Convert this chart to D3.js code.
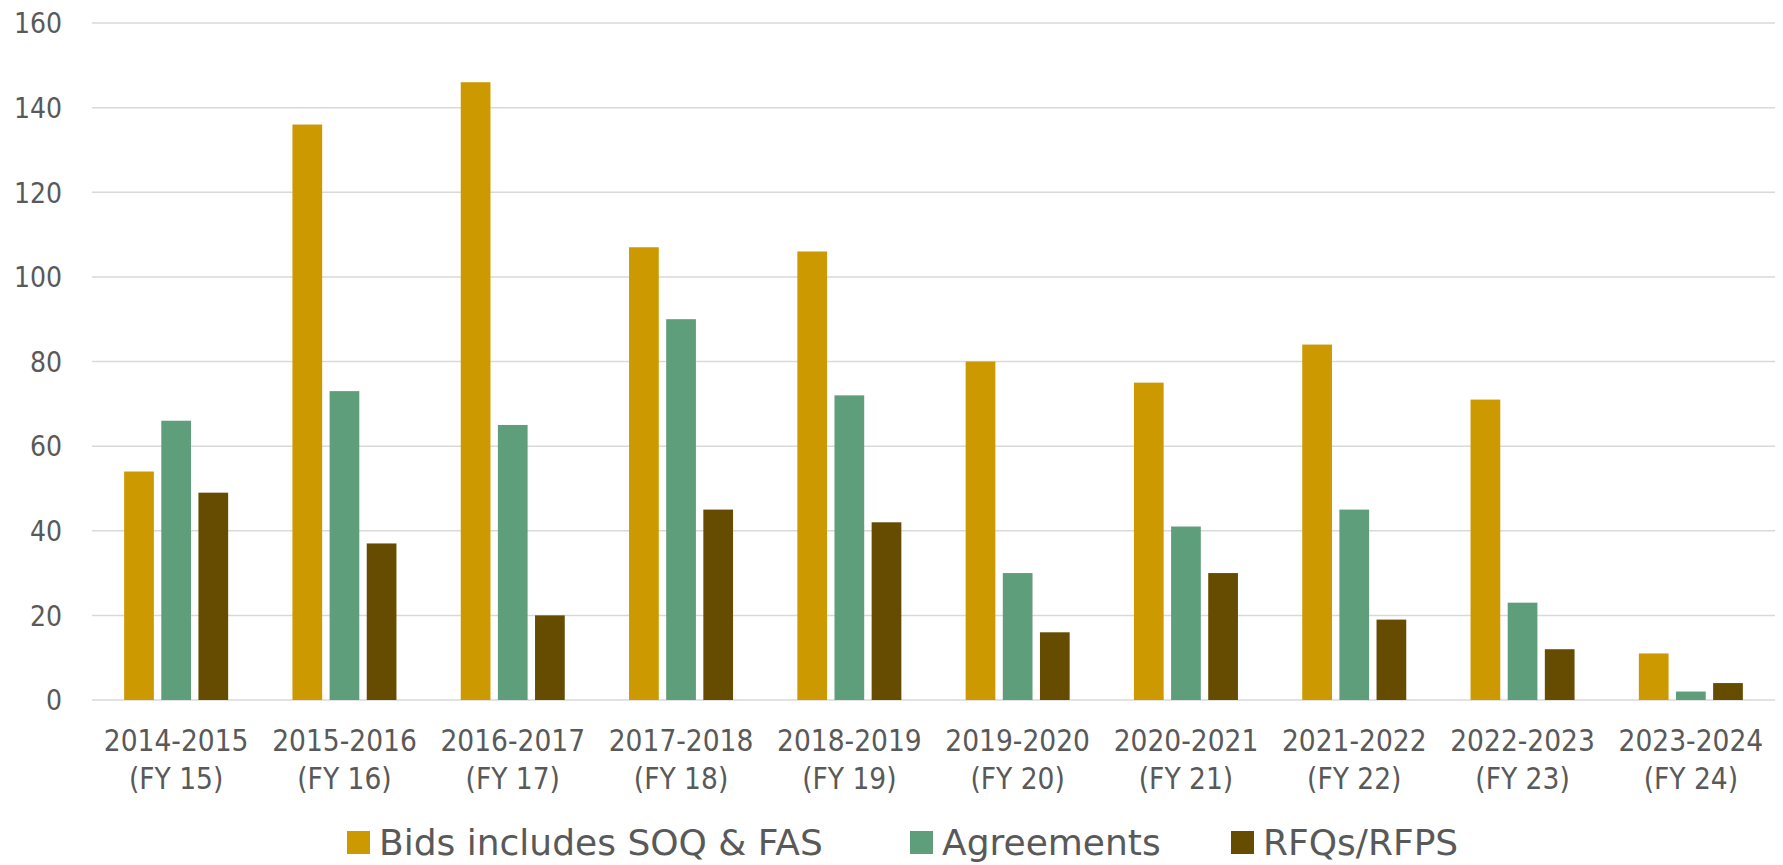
<!DOCTYPE html>
<html>
<head>
<meta charset="utf-8">
<script src="https://cdn.jsdelivr.net/npm/d3@7"></script>
<style>
  body { margin: 0; background: #fff; }
  text { font-family: "DejaVu Sans Condensed", "DejaVu Sans", sans-serif; fill: #595959; }
</style>
</head>
<body>
<svg id="chart" width="1783" height="865"></svg>
<script>
const years = ['2014-2015', '2015-2016', '2016-2017', '2017-2018', '2018-2019',
  '2019-2020', '2020-2021', '2021-2022', '2022-2023', '2023-2024'];
const fiscal = ['(FY 15)', '(FY 16)', '(FY 17)', '(FY 18)', '(FY 19)',
  '(FY 20)', '(FY 21)', '(FY 22)', '(FY 23)', '(FY 24)'];
const bids = [54, 136, 146, 107, 106, 80, 75, 84, 71, 11];
const agreements = [66, 73, 65, 90, 72, 30, 41, 45, 23, 2];
const rfqs = [49, 37, 20, 45, 42, 16, 30, 19, 12, 4];
const seriesNames = ['Bids includes SOQ & FAS', 'Agreements', 'RFQs/RFPS'];
const colors = ['#cc9900', '#5f9e7a', '#664c00'];
const yTicks = [0, 20, 40, 60, 80, 100, 120, 140, 160];

const series = [bids, agreements, rfqs];
const svg = d3.select('#chart');
const margin = { left: 92, right: 8, top: 23, bottom: 165 };
const width = 1783, height = 865;

const x = d3.scaleBand()
  .domain(years)
  .range([margin.left, width - margin.right]);

const x1 = d3.scaleBand()
  .domain(d3.range(series.length))
  .range([-52, 52])
  .paddingInner(0.2);

const y = d3.scaleLinear()
  .domain([0, 160])
  .range([height - margin.bottom, margin.top]);

// Gridlines

svg.append('g')
  .selectAll('line')
  .data(yTicks)
  .join('line')
  .attr('x1', margin.left)
  .attr('x2', width - margin.right)
  .attr('y1', d => y(d))
  .attr('y2', d => y(d))
  .attr('stroke', '#d9d9d9')
  .attr('stroke-width', 1.5);

// Y axis labels

const yAxis = svg.append('g')
  .attr('transform', `translate(${margin.left - 30}, 0)`)
  .call(d3.axisLeft(y).tickValues(yTicks).tickSize(0).tickPadding(0));
yAxis.select('.domain').remove();
yAxis.selectAll('text')
  .attr('font-size', 28)
  .attr('dy', '0.35em')
  .style('font-family', '"DejaVu Sans Condensed", "DejaVu Sans", sans-serif')
  .attr('fill', '#595959');

// Bars

const groups = svg.append('g')
  .selectAll('g')
  .data(years)
  .join('g')
  .attr('transform', d => `translate(${x(d) + x.bandwidth() / 2}, 0)`);

groups.selectAll('rect')
  .data((d, i) => series.map((s, k) => ({ k, v: s[i] })))
  .join('rect')
  .attr('x', d => x1(d.k))
  .attr('width', x1.bandwidth())
  .attr('y', d => y(d.v))
  .attr('height', d => y(0) - y(d.v))
  .attr('fill', d => colors[d.k]);

// X axis labels

const xAxis = svg.append('g')
  .attr('transform', `translate(0, ${y(0)})`)
  .call(d3.axisBottom(x).tickSize(0).tickFormat(() => ''));
xAxis.select('.domain').remove();
xAxis.selectAll('.tick').each(function (d, i) {
  const t = d3.select(this).append('text')
    .attr('text-anchor', 'middle')
    .attr('font-size', 29.5)
    .attr('fill', '#595959');
  t.append('tspan').attr('x', 0).attr('y', 51).text(years[i]);
  t.append('tspan').attr('x', 0).attr('y', 89).text(fiscal[i]);
});

// Legend (kept a little above the bottom edge so descenders are not cut)

const legendX = [347, 910, 1231];
const legend = svg.append('g')
  .selectAll('g')
  .data(seriesNames)
  .join('g')
  .attr('transform', (d, i) => `translate(${legendX[i]}, 831)`);
legend.append('rect')
  .attr('width', 23)
  .attr('height', 23)
  .attr('fill', (d, i) => colors[i]);
legend.append('text')
  .attr('x', 32)
  .attr('y', 24)
  .attr('font-size', 36)
  .style('font-family', '"DejaVu Sans", sans-serif')
  .text(d => d);
</script>
</body>
</html>
